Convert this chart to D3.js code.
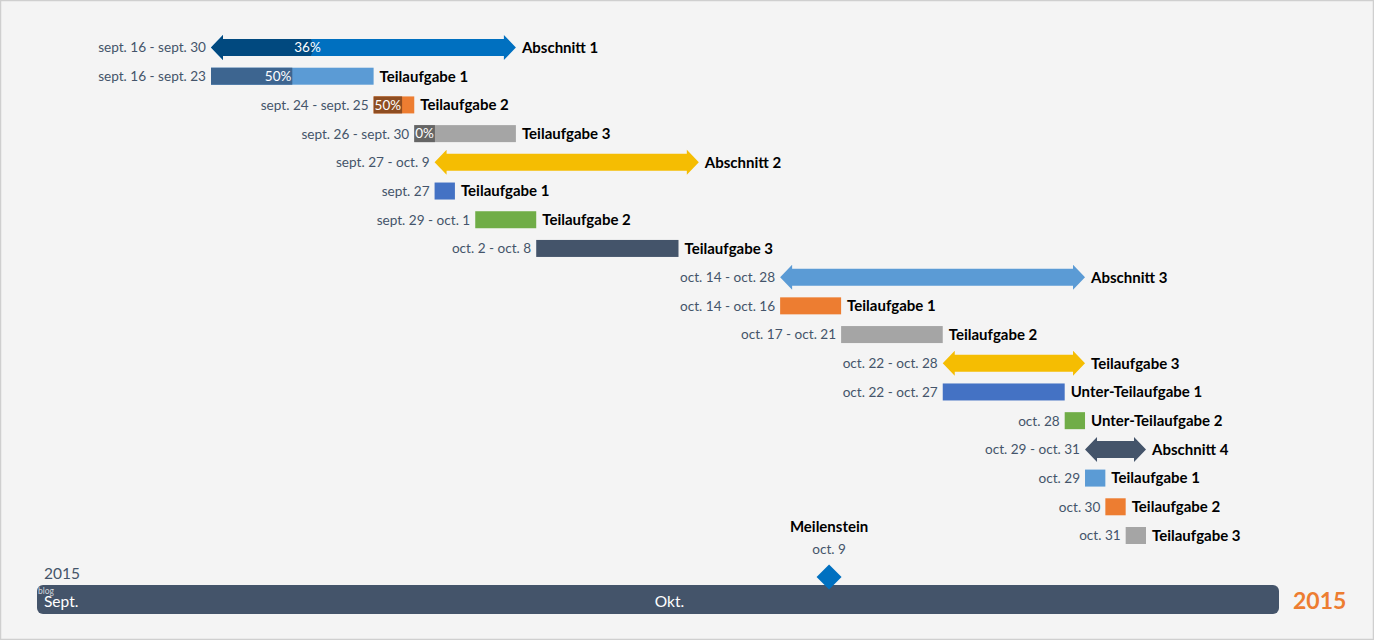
<!DOCTYPE html>
<html>
<head>
<meta charset="utf-8">
<script src="https://cdn.jsdelivr.net/npm/d3@7"></script>
<style>
  html, body { margin: 0; padding: 0; background: #f4f4f4; }
  svg { display: block; }
</style>
</head>
<body>
<svg id="chart" width="1374" height="640"></svg>
<script>
// ---------- DATA ----------
const taskNames = [
  "Abschnitt 1", "Teilaufgabe 1", "Teilaufgabe 2", "Teilaufgabe 3",
  "Abschnitt 2", "Teilaufgabe 1", "Teilaufgabe 2", "Teilaufgabe 3",
  "Abschnitt 3", "Teilaufgabe 1", "Teilaufgabe 2", "Teilaufgabe 3",
  "Unter-Teilaufgabe 1", "Unter-Teilaufgabe 2",
  "Abschnitt 4", "Teilaufgabe 1", "Teilaufgabe 2", "Teilaufgabe 3"
];
const startDates = [
  "2015-09-16", "2015-09-16", "2015-09-24", "2015-09-26",
  "2015-09-27", "2015-09-27", "2015-09-29", "2015-10-02",
  "2015-10-14", "2015-10-14", "2015-10-17", "2015-10-22",
  "2015-10-22", "2015-10-28",
  "2015-10-29", "2015-10-29", "2015-10-30", "2015-10-31"
];
const endDates = [
  "2015-09-30", "2015-09-23", "2015-09-25", "2015-09-30",
  "2015-10-09", "2015-09-27", "2015-10-01", "2015-10-08",
  "2015-10-28", "2015-10-16", "2015-10-21", "2015-10-28",
  "2015-10-27", "2015-10-28",
  "2015-10-31", "2015-10-29", "2015-10-30", "2015-10-31"
];
const dateLabels = [
  "sept. 16 - sept. 30", "sept. 16 - sept. 23", "sept. 24 - sept. 25", "sept. 26 - sept. 30",
  "sept. 27 - oct. 9", "sept. 27", "sept. 29 - oct. 1", "oct. 2 - oct. 8",
  "oct. 14 - oct. 28", "oct. 14 - oct. 16", "oct. 17 - oct. 21", "oct. 22 - oct. 28",
  "oct. 22 - oct. 27", "oct. 28",
  "oct. 29 - oct. 31", "oct. 29", "oct. 30", "oct. 31"
];
const shapes = [
  "arrow", "bar", "bar", "bar",
  "arrow", "bar", "bar", "bar",
  "arrow", "bar", "bar", "arrow",
  "bar", "bar",
  "arrow", "bar", "bar", "bar"
];
const progress = [36, 50, 50, 0, null, null, null, null, null, null, null, null, null, null, null, null, null, null];

const milestoneName = "Meilenstein";
const milestoneDate = "2015-10-09";
const milestoneLabel = "oct. 9";

const monthLabels = ["Sept.", "Okt."];
const monthStarts = ["2015-09-01", "2015-10-01"];
const yearLabel = "2015";

// ---------- STYLES ----------
const fills = [
  "#0070c0", "#5b9bd5", "#ed7d31", "#a5a5a5",
  "#f5bd02", "#4472c4", "#70ad47", "#44546a",
  "#5b9bd5", "#ed7d31", "#a5a5a5", "#f5bd02",
  "#4472c4", "#70ad47",
  "#44546a", "#5b9bd5", "#ed7d31", "#a5a5a5"
];
const darkFills = { 0: "#01497f", 1: "#3d6590", 2: "#8e4d21", 3: "#656565" };

const FONT = "Lato, 'Open Sans', sans-serif";
const svg = d3.select("#chart");
const W = 1374, H = 640;

svg.append("rect").attr("x", 0.5).attr("y", 0.5).attr("width", W - 1).attr("height", H - 1)
  .attr("fill", "#f4f4f4").attr("stroke", "#cfcfcf").attr("stroke-width", 1.5);

const parse = d3.utcParse("%Y-%m-%d");
const nextDay = d => d3.utcDay.offset(parse(d), 1);

// task scale
const x = d3.scaleUtc()
  .domain([parse("2015-09-16"), parse("2015-11-01")])
  .range([211, 1146]);
// band scale
const xb = d3.scaleUtc()
  .domain([parse("2015-09-01"), parse("2015-11-01")])
  .range([37, 1279]);

const y = d3.scalePoint()
  .domain(d3.range(taskNames.length))
  .range([47.5, 535.5]);

const rows = taskNames.map((name, i) => ({
  i, name,
  x0: x(parse(startDates[i])),
  x1: x(nextDay(endDates[i])),
  cy: y(i),
  label: dateLabels[i],
  shape: shapes[i],
  prog: progress[i]
}));

const barH = 17, arrowH = 25, shaftH = 17, headL = 12;

function arrowPath(x0, x1, cy) {
  const hs = shaftH / 2, ha = arrowH / 2;
  return `M${x0},${cy} L${x0 + headL},${cy - ha} L${x0 + headL},${cy - hs} L${x1 - headL},${cy - hs}` +
    ` L${x1 - headL},${cy - ha} L${x1},${cy} L${x1 - headL},${cy + ha} L${x1 - headL},${cy + hs}` +
    ` L${x0 + headL},${cy + hs} L${x0 + headL},${cy + ha} Z`;
}

const g = svg.append("g");

rows.forEach(r => {
  const grp = g.append("g");
  if (r.shape === "arrow") {
    grp.append("path").attr("d", arrowPath(r.x0, r.x1, r.cy)).attr("fill", fills[r.i]);
    if (r.prog != null) {
      const px = r.x0 + (r.x1 - r.x0) * r.prog / 100 - 10;
      const hs = shaftH / 2, ha = arrowH / 2;
      grp.append("path")
        .attr("d", `M${r.x0},${r.cy} L${r.x0 + headL},${r.cy - ha} L${r.x0 + headL},${r.cy - hs} L${px},${r.cy - hs} L${px + 4},${r.cy} L${px},${r.cy + hs} L${r.x0 + headL},${r.cy + hs} L${r.x0 + headL},${r.cy + ha} Z`)
        .attr("fill", darkFills[r.i]);
      grp.append("text").attr("x", px + 10).attr("y", r.cy).attr("dy", "0.36em")
        .attr("text-anchor", "end").attr("fill", "#ffffff")
        .attr("font-family", FONT).attr("font-size", 13.5).text(r.prog + "%");
    }
  } else {
    grp.append("rect").attr("x", r.x0).attr("y", r.cy - barH / 2)
      .attr("width", r.x1 - r.x0).attr("height", barH).attr("fill", fills[r.i]);
    if (r.prog != null) {
      const t = grp.append("text").attr("y", r.cy).attr("dy", "0.36em")
        .attr("fill", "#ffffff").attr("font-family", FONT).attr("font-size", 13.5)
        .text(r.prog + "%");
      const tw = t.node().getComputedTextLength();
      const pw = Math.max((r.x1 - r.x0) * r.prog / 100, tw + 2);
      grp.insert("rect", "text").attr("x", r.x0).attr("y", r.cy - barH / 2)
        .attr("width", pw).attr("height", barH).attr("fill", darkFills[r.i]);
      t.attr("x", r.x0 + pw - 1).attr("text-anchor", "end");
    }
  }
  // date label
  grp.append("text").attr("x", r.x0 - 5).attr("y", r.cy).attr("dy", "0.36em")
    .attr("text-anchor", "end").attr("fill", "#44546a")
    .attr("font-family", FONT).attr("font-size", 13.6).text(r.label);
  // name label
  grp.append("text").attr("x", r.x1 + 6).attr("y", r.cy).attr("dy", "0.36em")
    .attr("fill", "#000000").attr("font-weight", "bold")
    .attr("font-family", FONT).attr("font-size", 15).text(r.name);
});

// ---------- BAND ----------
const bandY = 585, bandH = 29;
svg.append("rect").attr("x", xb.range()[0]).attr("y", bandY)
  .attr("width", xb.range()[1] - xb.range()[0]).attr("height", bandH)
  .attr("rx", 6).attr("fill", "#44546a");

monthLabels.forEach((m, i) => {
  svg.append("text").attr("x", xb(parse(monthStarts[i])) + 7).attr("y", bandY + bandH / 2 + 1.5)
    .attr("dy", "0.36em").attr("fill", "#ffffff")
    .attr("font-family", FONT).attr("font-size", 15.5).text(m);
});
svg.append("text").attr("x", xb.range()[0] + 1).attr("y", bandY + 9)
  .attr("fill", "#d0d4dc").attr("font-family", FONT).attr("font-size", 8.5).text("blog");

svg.append("text").attr("x", xb.range()[0] + 7).attr("y", bandY - 6)
  .attr("fill", "#44546a").attr("font-family", FONT).attr("font-size", 15.5).text(yearLabel);

svg.append("text").attr("x", xb.range()[1] + 14).attr("y", bandY + bandH / 2 + 1)
  .attr("dy", "0.36em").attr("fill", "#ed7d31").attr("font-weight", "bold")
  .attr("font-family", FONT).attr("font-size", 23).text(yearLabel);

// ---------- MILESTONE ----------
const mx = xb(nextDay(milestoneDate)) - 2;
const my = 577, md = 12.5;
svg.append("path")
  .attr("d", `M${mx},${my - md} L${mx + md},${my} L${mx},${my + md} L${mx - md},${my} Z`)
  .attr("fill", "#0070c0");
svg.append("text").attr("x", mx).attr("y", 527).attr("dy", "0.36em")
  .attr("text-anchor", "middle").attr("font-weight", "bold").attr("fill", "#000")
  .attr("font-family", FONT).attr("font-size", 15).text(milestoneName);
svg.append("text").attr("x", mx).attr("y", 549).attr("dy", "0.36em")
  .attr("text-anchor", "middle").attr("fill", "#44546a")
  .attr("font-family", FONT).attr("font-size", 13.6).text(milestoneLabel);
</script>
</body>
</html>
